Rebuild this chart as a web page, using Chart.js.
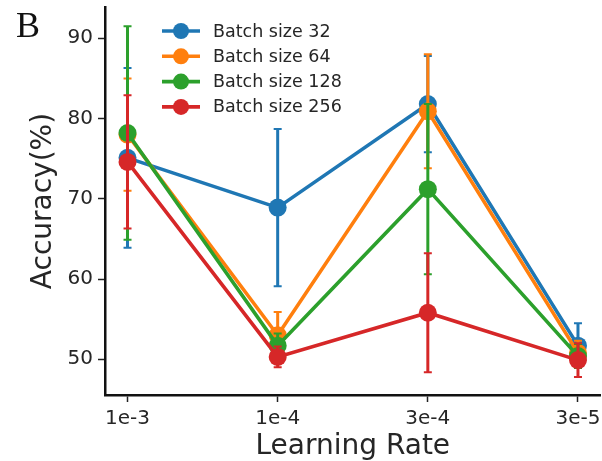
<!DOCTYPE html>
<html>
<head>
<meta charset="utf-8">
<script src="https://cdn.jsdelivr.net/npm/chart.js@4/dist/chart.umd.min.js"></script>
<style>
  html, body { margin: 0; padding: 0; background: #fff; }
  #wrap { width: 602px; height: 461px; position: relative; }
</style>
</head>
<body>
<div id="wrap"><canvas id="c" width="602" height="461"></canvas></div>
<script>
// Learning-rate sweep: mean accuracy and error (± half-range) per batch size
const lrLabels = ['1e-3', '1e-4', '3e-4', '3e-5'];
const yTicks = [50, 60, 70, 80, 90];

const batchNames = ['Batch size 32', 'Batch size 64', 'Batch size 128', 'Batch size 256'];

const acc32  = [75.1, 68.9, 81.8, 51.7];
const err32  = [11.2, 9.8, 6.0, 2.8];
const acc64  = [78.0, 53.0, 80.9, 50.8];
const err64  = [7.0, 2.9, 7.1, 1.5];
const acc128 = [78.2, 51.7, 71.2, 50.4];
const err128 = [13.3, 1.5, 10.6, 1.5];
const acc256 = [74.6, 50.3, 55.8, 49.9];
const err256 = [8.3, 1.3, 7.4, 2.1];

const colors = ['#1f77b4', '#ff7f0e', '#2ca02c', '#d62728'];
const textColor = '#262626';

const series = [
  { acc: acc32, err: err32 },
  { acc: acc64, err: err64 },
  { acc: acc128, err: err128 },
  { acc: acc256, err: err256 }
];

const datasets = series.map((s, i) => ({
  label: batchNames[i],
  data: s.acc.map((v, k) => ({ x: k, y: v })),
  errors: s.err,
  borderColor: colors[i],
  backgroundColor: colors[i],
  pointBackgroundColor: colors[i],
  pointBorderWidth: 0,
  pointRadius: 9,
  borderWidth: 3.6,
  tension: 0,
  // later series sit on top
  order: series.length - i
}));

// vertical error bars with small caps, drawn just under each series' own line
const errorBars = {
  id: 'errorBars',
  beforeDatasetDraw(chart, args) {
    const ds = chart.data.datasets[args.index];
    const xs = chart.scales.x, ys = chart.scales.y;
    const ctx = chart.ctx;
    ctx.save();
    ctx.strokeStyle = ds.borderColor;
    ds.data.forEach((p, k) => {
      const e = ds.errors[k];
      const px = xs.getPixelForValue(p.x);
      const top = ys.getPixelForValue(p.y + e);
      const bot = ys.getPixelForValue(p.y - e);
      ctx.lineWidth = 3;
      ctx.beginPath();
      ctx.moveTo(px, top);
      ctx.lineTo(px, bot);
      ctx.stroke();
      ctx.lineWidth = 2;
      ctx.beginPath();
      ctx.moveTo(px - 4, top); ctx.lineTo(px + 4, top);
      ctx.moveTo(px - 4, bot); ctx.lineTo(px + 4, bot);
      ctx.stroke();
    });
    ctx.restore();
  }
};

// legend with line-and-marker handles, plus the panel letter
const decorations = {
  id: 'decorations',
  afterDraw(chart) {
    const ctx = chart.ctx;
    ctx.save();
    chart.data.datasets.forEach((ds, i) => {
      const y = 31 + i * 25.3;
      ctx.strokeStyle = ds.borderColor;
      ctx.lineWidth = 3.6;
      ctx.beginPath();
      ctx.moveTo(162, y);
      ctx.lineTo(200, y);
      ctx.stroke();
      ctx.fillStyle = ds.borderColor;
      ctx.beginPath();
      ctx.arc(181, y, 8, 0, Math.PI * 2);
      ctx.fill();
      ctx.fillStyle = textColor;
      ctx.font = '17.5px "DejaVu Sans"';
      ctx.textBaseline = 'middle';
      ctx.textAlign = 'left';
      ctx.fillText(ds.label, 213, y + 1);
    });
    ctx.fillStyle = '#111';
    ctx.font = '36px "Liberation Serif"';
    ctx.textBaseline = 'alphabetic';
    ctx.fillText('B', 16, 37);
    ctx.restore();
  }
};

Chart.defaults.font.family = '"DejaVu Sans"';
Chart.defaults.color = textColor;

new Chart(document.getElementById('c'), {
  type: 'line',
  data: { datasets },
  plugins: [errorBars, decorations],
  options: {
    responsive: false,
    animation: false,
    events: [],
    layout: { autoPadding: false, padding: { top: 7, right: 1.5, left: 0, bottom: 0 } },
    plugins: {
      legend: { display: false },
      tooltip: { enabled: false }
    },
    scales: {
      x: {
        type: 'linear',
        min: -0.15,
        max: 3.15,
        afterBuildTicks(scale) { scale.ticks = lrLabels.map((_, k) => ({ value: k })); },
        afterFit(scale) { scale.height = 66; scale.paddingLeft = 0; scale.paddingRight = 0; },
        ticks: {
          callback: v => lrLabels[v],
          font: { size: 20 },
          padding: 5,
          maxRotation: 0,
          color: textColor
        },
        grid: {
          display: true,
          drawOnChartArea: false,
          drawTicks: true,
          tickLength: 7,
          tickWidth: 1.5,
          tickColor: '#222'
        },
        border: { display: true, color: '#111', width: 2.5 },
        title: {
          display: true,
          text: 'Learning Rate',
          font: { size: 28, lineHeight: 1 },
          color: textColor,
          padding: { top: 0, bottom: 0 }
        }
      },
      y: {
        min: 45.55,
        max: 93.9,
        afterBuildTicks(scale) { scale.ticks = yTicks.map(v => ({ value: v })); },
        afterFit(scale) { scale.width = 105; scale.paddingTop = 0; scale.paddingBottom = 0; },
        ticks: {
          font: { size: 20 },
          padding: 5,
          color: textColor
        },
        grid: {
          display: true,
          drawOnChartArea: false,
          drawTicks: true,
          tickLength: 7,
          tickWidth: 1.5,
          tickColor: '#222'
        },
        border: { display: true, color: '#111', width: 2.5 },
        title: {
          display: true,
          text: 'Accuracy(%)',
          font: { size: 28, lineHeight: 1 },
          color: textColor,
          padding: { top: 30, bottom: 0 }
        }
      }
    }
  }
});
</script>
</body>
</html>
